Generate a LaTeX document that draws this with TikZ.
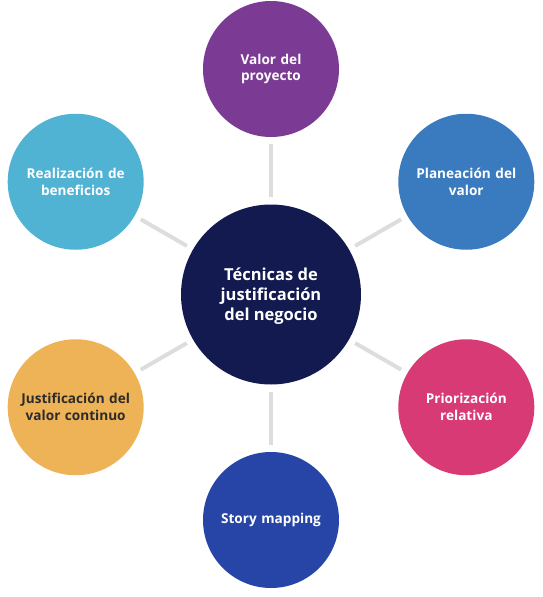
\documentclass[tikz,border=0pt]{standalone}
\usepackage{fontspec}
\setmainfont{Open Sans}
\definecolor{cpurple}{HTML}{7B3A93}
\definecolor{cblue}{HTML}{3A7BBF}
\definecolor{cpink}{HTML}{D83A76}
\definecolor{croyal}{HTML}{2745A6}
\definecolor{corange}{HTML}{EEB257}
\definecolor{ccyan}{HTML}{50B3D3}
\definecolor{cnavy}{HTML}{121A50}
\definecolor{cline}{HTML}{DDDDDD}
\definecolor{cdark}{HTML}{2B2B2B}
\begin{document}
\begin{tikzpicture}[x=1pt,y=-1pt,
  outer/.style={circle,minimum size=136pt,inner sep=0pt,text width=112pt,align=center,
    font=\fontsize{13.6}{16.8}\selectfont\bfseries,text=white},
  hub/.style={circle,minimum size=180pt,inner sep=0pt,fill=cnavy,text width=140pt,align=center,
    font=\fontsize{16.5}{20}\selectfont\bfseries,text=white},
  link/.style={draw=cline,line width=4pt,shorten <=7pt,shorten >=7pt}]
\useasboundingbox (0,0) rectangle (543,597);
\node[hub] (c) at (271,294.5) {};
\node[text=white,font=\fontsize{16.5}{20}\selectfont\bfseries,align=center,inner sep=0pt] (ct) at (271,296.5) {Técnicas de\\justificación\\del negocio};
\node[outer,fill=cpurple] (a) at (271,69) {Valor del\\proyecto};
\node[outer,fill=cblue] (b) at (466.3,181.75) {Planeación del\\valor};
\node[outer,fill=cpink] (d) at (466.3,407.25) {Priorización\\relativa};
\node[outer,fill=croyal] (e) at (271,520) {Story mapping};
\node[outer,fill=corange,text=cdark] (f) at (75.7,407.25) {Justificación del\\valor continuo};
\node[outer,fill=ccyan] (g) at (75.7,181.75) {Realización de\\beneficios};
\foreach \n in {a,b,d,e,f,g} \draw[link] (c) -- (\n);
\end{tikzpicture}
\end{document}
